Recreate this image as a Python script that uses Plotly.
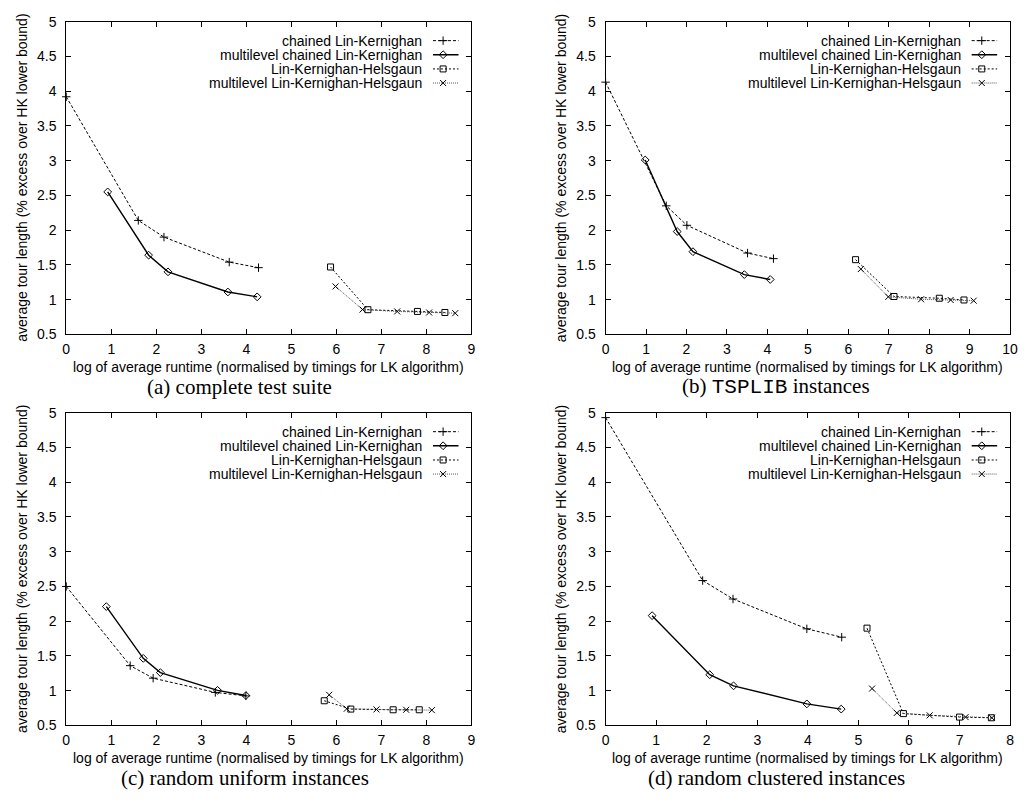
import plotly.graph_objects as go

# ---------------- data ----------------
series_names = ["chained Lin-Kernighan", "multilevel chained Lin-Kernighan",
                "Lin-Kernighan-Helsgaun", "multilevel Lin-Kernighan-Helsgaun"]

# (a) complete test suite
a_clk_x = [0, 1.60, 2.17, 3.62, 4.27]
a_clk_y = [3.92, 2.14, 1.90, 1.54, 1.46]
a_mclk_x = [0.92, 1.83, 2.26, 3.59, 4.24]
a_mclk_y = [2.55, 1.64, 1.40, 1.11, 1.04]
a_lkh_x = [5.87, 6.70, 7.80, 8.41]
a_lkh_y = [1.47, 0.855, 0.83, 0.815]
a_mlkh_x = [5.98, 6.58, 7.35, 8.06, 8.64]
a_mlkh_y = [1.19, 0.857, 0.83, 0.815, 0.805]

# (b) TSPLIB instances
b_clk_x = [0, 1.50, 2.01, 3.51, 4.15]
b_clk_y = [4.13, 2.35, 2.07, 1.67, 1.59]
b_mclk_x = [0.98, 1.77, 2.16, 3.43, 4.07]
b_mclk_y = [3.01, 1.98, 1.69, 1.36, 1.29]
b_lkh_x = [6.18, 7.13, 8.25, 8.86]
b_lkh_y = [1.575, 1.045, 1.02, 0.995]
b_mlkh_x = [6.31, 6.99, 7.80, 8.53, 9.10]
b_mlkh_y = [1.44, 1.04, 1.005, 0.995, 0.985]

# (c) random uniform instances
c_clk_x = [0, 1.42, 1.93, 3.31, 3.99]
c_clk_y = [2.50, 1.36, 1.18, 0.975, 0.925]
c_mclk_x = [0.89, 1.71, 2.09, 3.36, 3.99]
c_mclk_y = [2.21, 1.465, 1.26, 1.005, 0.93]
c_lkh_x = [5.73, 6.32, 7.26, 7.84]
c_lkh_y = [0.855, 0.735, 0.725, 0.725]
c_mlkh_x = [5.84, 6.23, 6.89, 7.55, 8.12]
c_mlkh_y = [0.94, 0.74, 0.73, 0.725, 0.72]

# (d) random clustered instances
d_clk_x = [0, 1.92, 2.52, 3.98, 4.67]
d_clk_y = [4.93, 2.585, 2.32, 1.89, 1.77]
d_mclk_x = [0.92, 2.06, 2.53, 3.98, 4.66]
d_mclk_y = [2.08, 1.23, 1.07, 0.81, 0.735]
d_lkh_x = [5.17, 5.89, 7.00, 7.63]
d_lkh_y = [1.90, 0.67, 0.62, 0.61]
d_mlkh_x = [5.27, 5.76, 6.41, 7.12, 7.64]
d_mlkh_y = [1.03, 0.68, 0.645, 0.62, 0.61]

x_max = [9, 10, 9, 8]
y_ticks = [0.5, 1, 1.5, 2, 2.5, 3, 3.5, 4, 4.5, 5]
y_tick_text = ["0.5", "1", "1.5", "2", "2.5", "3", "3.5", "4", "4.5", "5"]
captions = ["(a) complete test suite",
            "(b) <span style=\"font-family:'Liberation Mono', 'DejaVu Sans Mono', monospace\">TSPLIB</span> instances",
            "(c) random uniform instances",
            "(d) random clustered instances"]
x_title = "log of average runtime (normalised by timings for LK algorithm)"
y_title = "average tour length (% excess over HK lower bound)"

panels = [
    [(a_clk_x, a_clk_y), (a_mclk_x, a_mclk_y), (a_lkh_x, a_lkh_y), (a_mlkh_x, a_mlkh_y)],
    [(b_clk_x, b_clk_y), (b_mclk_x, b_mclk_y), (b_lkh_x, b_lkh_y), (b_mlkh_x, b_mlkh_y)],
    [(c_clk_x, c_clk_y), (c_mclk_x, c_mclk_y), (c_lkh_x, c_lkh_y), (c_mlkh_x, c_mlkh_y)],
    [(d_clk_x, d_clk_y), (d_mclk_x, d_mclk_y), (d_lkh_x, d_lkh_y), (d_mlkh_x, d_mlkh_y)],
]

# ---------------- styles ----------------
W, H = 1026, 803
SANS = "Liberation Sans, Arial, Helvetica, sans-serif"
SERIF = "Liberation Serif, Times New Roman, serif"

styles = [
    dict(line=dict(color="black", width=1, dash="3px,2px"),
         marker=dict(symbol="cross-thin-open", size=6, color="black", line=dict(width=1, color="black"))),
    dict(line=dict(color="black", width=1.4),
         marker=dict(symbol="diamond-open", size=6, color="black", line=dict(width=1, color="black"))),
    dict(line=dict(color="black", width=1, dash="2px,2px"),
         marker=dict(symbol="square-open", size=6, color="black", line=dict(width=1, color="black"))),
    dict(line=dict(color="#555555", width=1, dash="1px,1px"),
         marker=dict(symbol="x-thin-open", size=6, color="black", line=dict(width=1, color="black"))),
]

px_x = [(63, 473), (608.7, 1018), (63, 473), (608.7, 1018)]
px_y = [(14, 333), (14, 333), (413, 732), (413, 732)]

fig = go.Figure()
layout = dict(width=W, height=H, margin=dict(l=0, r=0, t=0, b=0),
              paper_bgcolor="white", plot_bgcolor="white", showlegend=False,
              font=dict(family=SANS, size=14, color="black"))
annotations = []

legend_rows = [0.9395, 0.8945, 0.849, 0.804]
for p in range(4):
    xa = "x" if p == 0 else f"x{p+1}"
    ya = "y" if p == 0 else f"y{p+1}"
    xo, yo = f"x{p+5}", f"y{p+5}"
    xdom = [px_x[p][0] / W, px_x[p][1] / W]
    ydom = [(H - px_y[p][1]) / H, (H - px_y[p][0]) / H]
    axis_common = dict(showgrid=False, zeroline=False, showline=True, linecolor="black",
                       linewidth=1, mirror="ticks", ticks="inside", ticklen=5,
                       tickwidth=1, tickcolor="black",
                       tickfont=dict(family=SANS, size=14, color="black"))
    layout["xaxis" if p == 0 else f"xaxis{p+1}"] = dict(
        domain=xdom, anchor=ya, range=[0, x_max[p]], dtick=1, tick0=0,
        ticklabelstandoff=2, **axis_common)
    layout["yaxis" if p == 0 else f"yaxis{p+1}"] = dict(
        domain=ydom, anchor=xa, range=[0.5, 5], tickvals=y_ticks, ticktext=y_tick_text,
        ticklabelstandoff=6, **axis_common)
    # overlay axes for the key samples (0..1 inside the plot area)
    layout[f"xaxis{p+5}"] = dict(overlaying=xa, range=[0, 1], visible=False, anchor=yo)
    layout[f"yaxis{p+5}"] = dict(overlaying=ya, range=[0, 1], visible=False, anchor=xo)

    for s in range(4):
        xs, ys = panels[p][s]
        fig.add_trace(go.Scatter(x=xs, y=ys, mode="lines+markers", xaxis=xa, yaxis=ya,
                                 cliponaxis=False, name=series_names[s], **styles[s]))
        # key: text + sample
        annotations.append(dict(text=series_names[s], xref=f"{xa} domain", yref=f"{ya} domain",
                                x=0.884, y=legend_rows[s], xanchor="right", yanchor="middle",
                                showarrow=False, font=dict(family=SANS, size=14, color="black")))
        st = styles[s]
        fig.add_trace(go.Scatter(x=[0.905, 0.93, 0.968], y=[legend_rows[s]] * 3,
                                 mode="lines+markers", xaxis=xo, yaxis=yo, cliponaxis=False,
                                 line=st["line"],
                                 marker=dict(symbol=st["marker"]["symbol"], size=st["marker"]["size"],
                                             color="black", line=st["marker"]["line"],
                                             opacity=[0, 1, 0]),
                                 hoverinfo="skip"))
    # axis titles
    annotations.append(dict(text=x_title, xref="paper", yref="paper",
                            x=(xdom[0] + xdom[1]) / 2, y=(H - (px_y[p][1] + 33)) / H,
                            xanchor="center", yanchor="middle", showarrow=False,
                            font=dict(family=SANS, size=14, color="black")))
    annotations.append(dict(text=y_title, xref="paper", yref="paper", textangle=-90,
                            x=(px_x[p][0] - 45) / W, y=(ydom[0] + ydom[1]) / 2,
                            xanchor="center", yanchor="middle", showarrow=False,
                            font=dict(family=SANS, size=14, color="black")))
    # caption
    cap_cx = [238, 781, 244, 782][p]
    annotations.append(dict(text=captions[p], xref="paper", yref="paper",
                            x=cap_cx / W, y=(H - (px_y[p][1] + 53.5)) / H,
                            xanchor="center", yanchor="middle", showarrow=False,
                            font=dict(family=SERIF, size=21, color="black")))

layout["annotations"] = annotations
fig.update_layout(**layout)
fig.write_html("out.html")
